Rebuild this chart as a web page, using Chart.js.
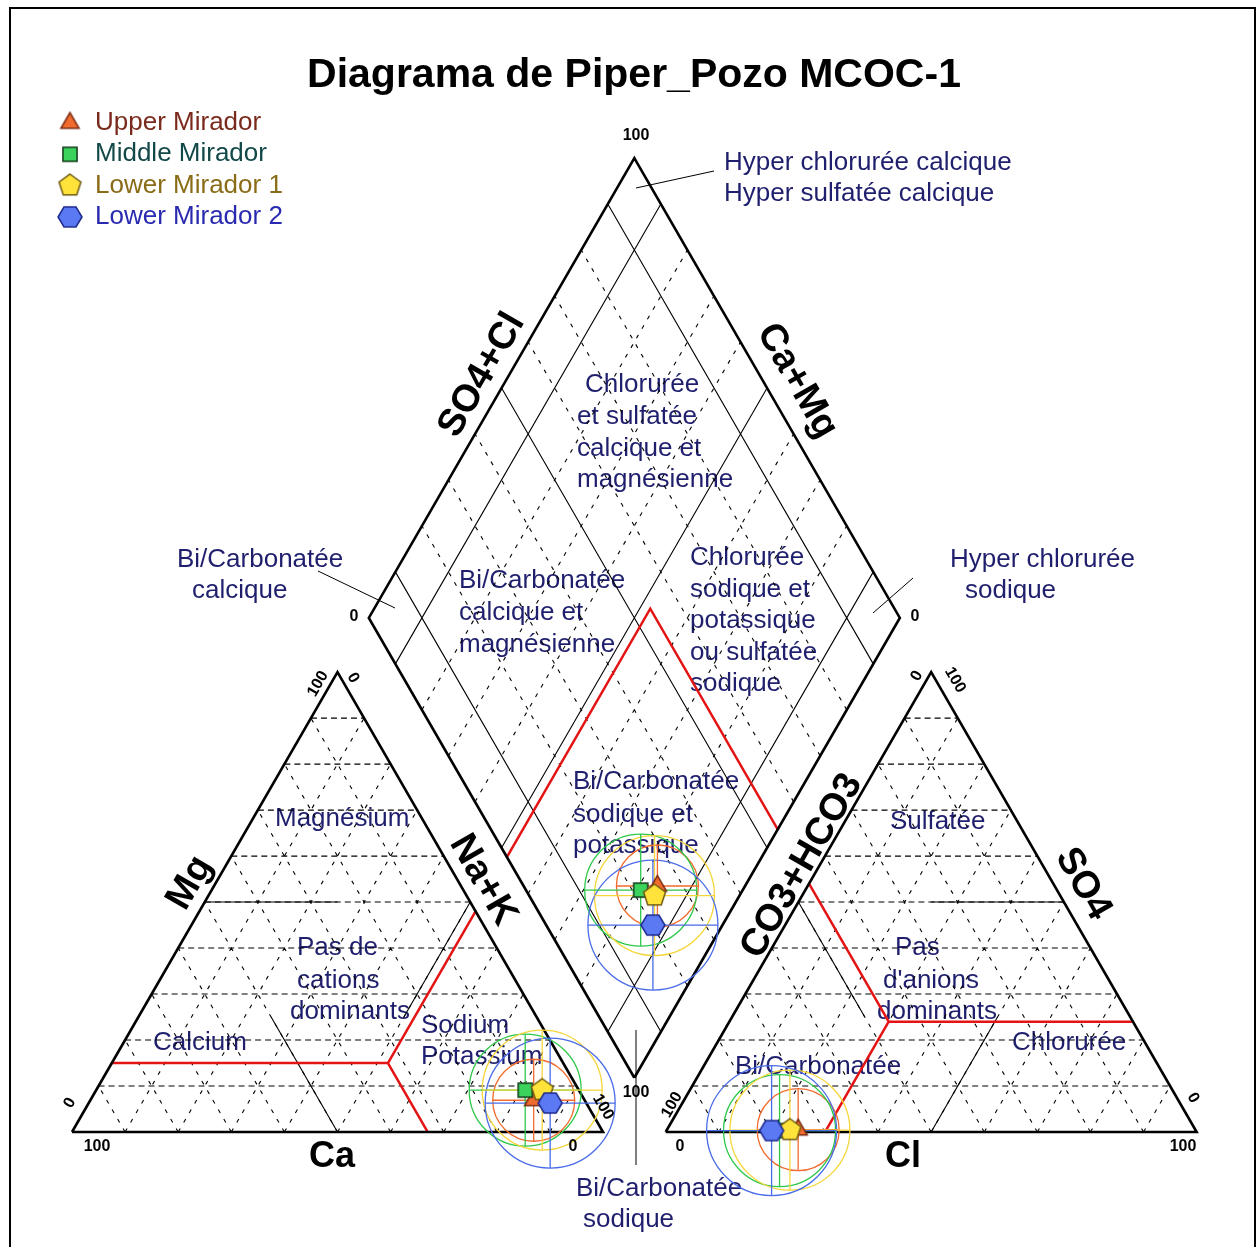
<!DOCTYPE html>
<html>
<head>
<meta charset="utf-8">
<script src="https://cdn.jsdelivr.net/npm/chart.js@4.4.0/dist/chart.umd.min.js"></script>
<style>
  html, body { margin: 0; padding: 0; background: #fff; }
  canvas { display: block; }
</style>
</head>
<body>
<canvas id="piper" width="1258" height="1247"></canvas>
<script>
// ---- data (% meq/l) ----
const seriesNames = ['Upper Mirador', 'Middle Mirador', 'Lower Mirador 1', 'Lower Mirador 2'];
const ca   = [9.6, 10.1, 6.9, 6.8];
const mg   = [6.9, 9.1, 9.1, 6.3];
const naK  = [83.5, 80.8, 84.0, 86.9];
const hco3 = [74.8, 78.4, 76.4, 79.9];
const so4  = [0.5, 0.3, 0.4, 0.3];
const cl   = [24.7, 21.3, 23.2, 19.8];
const edgeTicks = ['0', '100'];
const gridSteps = [10, 20, 30, 40, 50, 60, 70, 80, 90];

// ---- styles ----
const circleRadius = [41, 56, 60, 65];
const circleColors = ['#f26b2e', '#2dc84a', '#f5d63a', '#4a6be8'];
const markerFill   = ['#f26b2e', '#3bd35c', '#ffe23a', '#5b79f2'];
const markerEdge   = ['#7a2a10', '#133a18', '#6e5a12', '#1c2a8c'];
const legendColors = ['#7a2a1c', '#134848', '#8a6c16', '#2a2ab0'];
const LBL = '#1f1f6e';
const FONT = '"Liberation Sans", Arial, sans-serif';

// ---- piper geometry (triangle side = 100 units) ----
const K = 5.31, OX = 72, OY = 1132, CW = 1258, CH = 1247;
const TH = 86.6025, GAP = 11.8;
const XA = 100 + GAP;
const DB = { x: 100 + GAP / 2, y: GAP * TH / 100 };

const cat = (c, m, n) => ({ x: n + m / 2, y: m * TH / 100 });
const an  = (h, s, l) => ({ x: XA + l + s / 2, y: s * TH / 100 });
const dia = (a, c) => ({ x: DB.x + (a - c) / 2, y: DB.y + (a + c) * TH / 100 });

const flat = list => list.flatMap(s => [...s, { x: NaN, y: NaN }]);

const gridH = [], gridT = [];
gridSteps.forEach(v => {
  gridH.push([cat(100 - v, v, 0), cat(0, v, 100 - v)]);
  gridT.push([cat(v, 0, 100 - v), cat(v, 100 - v, 0)]);
  gridT.push([cat(100 - v, 0, v), cat(0, 100 - v, v)]);
  gridH.push([an(100 - v, v, 0), an(0, v, 100 - v)]);
  gridT.push([an(v, 0, 100 - v), an(v, 100 - v, 0)]);
  gridT.push([an(100 - v, 0, v), an(0, 100 - v, v)]);
});
const diaDash = [], thin = [];
gridSteps.forEach(v => {
  const pair = [[dia(v, 0), dia(v, 100)], [dia(0, v), dia(100, v)]];
  if ([10, 50, 90].includes(v)) thin.push(...pair); else diaDash.push(...pair);
});
thin.push(
  [cat(50, 50, 0), cat(25, 50, 25)], [cat(50, 0, 50), cat(50, 25, 25)], [cat(0, 50, 50), cat(25, 25, 50)],
  [an(0, 50, 50), an(25, 50, 25)], [an(50, 0, 50), an(25, 25, 50)], [an(50, 50, 0), an(50, 25, 25)]
);

const outlines = [
  [cat(100, 0, 0), cat(0, 0, 100), cat(0, 100, 0), cat(100, 0, 0)],
  [an(100, 0, 0), an(0, 0, 100), an(0, 100, 0), an(100, 0, 0)],
  [dia(0, 0), dia(100, 0), dia(100, 100), dia(0, 100), dia(0, 0)]
];

const redLines = [
  [cat(85, 15, 0), cat(33, 15, 52)], [cat(33, 15, 52), cat(33, 0, 67)], [cat(33, 15, 52), cat(0, 48, 52)],
  [an(46, 24, 30), an(0, 24, 76)], [an(46, 24, 30), an(70, 0, 30)], [an(46, 24, 30), an(46, 54, 0)],
  [dia(0, 48), dia(54, 48), dia(54, 0)]
];

function lineSet(segs, color, width, dash, order) {
  return {
    data: flat(segs), showLine: true, spanGaps: false, borderColor: color, borderWidth: width,
    borderDash: dash, pointRadius: 0, pointHoverRadius: 0, fill: false, order: order,
    borderJoinStyle: 'miter', borderCapStyle: 'butt'
  };
}

function polyMarker(sides, rx, ry, rot, fill, stroke) {
  const c = document.createElement('canvas');
  const s = Math.ceil(Math.max(rx, ry) * 2 + 4);
  c.width = c.height = s;
  const g = c.getContext('2d');
  g.beginPath();
  for (let k = 0; k < sides; k++) {
    const t = rot + k * 2 * Math.PI / sides;
    const px = s / 2 + rx * Math.cos(t), py = s / 2 + ry * Math.sin(t);
    if (k) g.lineTo(px, py); else g.moveTo(px, py);
  }
  g.closePath();
  g.fillStyle = fill; g.fill();
  g.lineWidth = 1.5; g.strokeStyle = stroke; g.stroke();
  return c;
}
const markers = [
  polyMarker(3, 10.5, 10.5, -Math.PI / 2, markerFill[0], markerEdge[0]),
  polyMarker(4, 10, 10, Math.PI / 4, markerFill[1], markerEdge[1]),
  polyMarker(5, 11.5, 11.5, -Math.PI / 2, markerFill[2], markerEdge[2]),
  polyMarker(6, 12, 11.5, 0, markerFill[3], markerEdge[3])
];

const datasets = [
  lineSet(gridH, '#000', 1.1, [6, 4], 100),
  lineSet(gridT, '#000', 1.1, [4, 7], 100),
  lineSet(diaDash, '#000', 1.1, [4, 7], 100),
  lineSet(thin, '#000', 1.1, [], 90),
  lineSet(redLines, '#e41414', 2.5, [], 80),
  lineSet(outlines, '#000', 2.6, [], 70)
];
seriesNames.forEach((name, i) => {
  const pts = [cat(ca[i], mg[i], naK[i]), an(hco3[i], so4[i], cl[i]), dia(so4[i] + cl[i], ca[i] + mg[i])];
  datasets.push({ label: name + ' circle', data: pts, pointStyle: 'circle', pointRadius: circleRadius[i],
    backgroundColor: 'rgba(0,0,0,0)', borderColor: circleColors[i], pointBorderWidth: 1.3, order: 50 - i });
  datasets.push({ label: name + ' cross', data: pts, pointStyle: 'cross', pointRadius: circleRadius[i],
    borderColor: circleColors[i], pointBorderWidth: 1.3, order: 40 - i });
  datasets.push({ label: name, data: pts, pointStyle: markers[i], pointRadius: 9, order: 20 - i });
});

// text placed from the picture (px)
const regionLabels = [
  ['Hyper chlorurée calcique', 724, 163], ['Hyper sulfatée calcique', 724, 194],
  ['Bi/Carbonatée', 177, 560], ['calcique', 192, 591],
  ['Hyper chlorurée', 950, 560], ['sodique', 965, 591],
  ['Chlorurée', 585, 385], ['et sulfatée', 577, 417], ['calcique et', 577, 449], ['magnésienne', 577, 480],
  ['Bi/Carbonatée', 459, 581], ['calcique et', 459, 613], ['magnésienne', 459, 645],
  ['Chlorurée', 690, 558], ['sodique et', 690, 590], ['potassique', 690, 621], ['ou sulfatée', 690, 653], ['sodique', 690, 684],
  ['Bi/Carbonatée', 573, 782], ['sodique et', 573, 815], ['potassique', 573, 846],
  ['Magnésium', 275, 819], ['Pas de', 297, 948], ['cations', 297, 981], ['dominants', 290, 1012],
  ['Calcium', 153, 1043], ['Sodium', 421, 1026], ['Potassium', 421, 1057],
  ['Sulfatée', 890, 822], ['Pas', 895, 948], ["d'anions", 883, 981], ['dominants', 877, 1012],
  ['Chlorurée', 1012, 1043], ['Bi/Carbonatée', 735, 1067],
  ['Bi/Carbonatée', 576, 1189], ['sodique', 583, 1220]
];
const axisLabels = [
  ['Ca', 332, 1157, 0, 36], ['Cl', 903, 1157, 0, 36],
  ['Mg', 190, 883, -60, 38], ['Na+K', 483, 880, 60, 38],
  ['SO4+Cl', 482, 375, -60, 38], ['Ca+Mg', 797, 381, 60, 38],
  ['CO3+HCO3', 802, 866, -60, 38], ['SO4', 1083, 884, 60, 38]
];
const numLabels = [
  [edgeTicks[1], 636, 136, 0], [edgeTicks[0], 354, 617, 0], [edgeTicks[0], 915, 617, 0], [edgeTicks[1], 636, 1093, 0],
  [edgeTicks[1], 97, 1147, 0], [edgeTicks[0], 573, 1147, 0], [edgeTicks[0], 70, 1103, -60], [edgeTicks[1], 318, 684, -60],
  [edgeTicks[0], 353, 678, 60], [edgeTicks[1], 603, 1107, 60],
  [edgeTicks[0], 680, 1147, 0], [edgeTicks[1], 1183, 1147, 0], [edgeTicks[1], 672, 1105, -60], [edgeTicks[0], 917, 676, -60],
  [edgeTicks[1], 955, 680, 60], [edgeTicks[0], 1193, 1098, 60]
];
const leaders = [[636, 188, 714, 171], [318, 571, 395, 608], [913, 578, 873, 613], [636, 1030, 636, 1165]];

function rotText(g, t, x, y, deg) {
  g.save(); g.translate(x, y); g.rotate(deg * Math.PI / 180); g.fillText(t, 0, 0); g.restore();
}

const annotations = {
  id: 'annotations',
  beforeDatasetsDraw(chart) {
    const g = chart.ctx;
    g.save();
    g.font = '26px ' + FONT; g.fillStyle = LBL; g.textAlign = 'left'; g.textBaseline = 'middle';
    regionLabels.forEach(([t, x, y]) => g.fillText(t, x, y));
    g.restore();
  },
  afterDatasetsDraw(chart) {
    const g = chart.ctx;
    g.save();
    g.strokeStyle = '#000'; g.lineWidth = 2;
    g.strokeRect(10, 8, 1245, 1260);
    g.lineWidth = 1;
    leaders.forEach(([x1, y1, x2, y2]) => { g.beginPath(); g.moveTo(x1, y1); g.lineTo(x2, y2); g.stroke(); });
    g.fillStyle = '#000'; g.textAlign = 'center'; g.textBaseline = 'middle';
    g.font = 'bold 41px ' + FONT;
    g.fillText('Diagrama de Piper_Pozo MCOC-1', 634, 76);
    axisLabels.forEach(([t, x, y, r, s]) => { g.font = 'bold ' + s + 'px ' + FONT; rotText(g, t, x, y, r); });
    g.font = 'bold 16px ' + FONT;
    numLabels.forEach(([t, x, y, r]) => rotText(g, t, x, y, r));
    g.font = '26px ' + FONT; g.textAlign = 'left';
    seriesNames.forEach((name, i) => {
      const y = 123 + i * 31.3;
      const m = markers[i];
      g.drawImage(m, 70 - m.width / 2, y - m.height / 2);
      g.fillStyle = legendColors[i];
      g.fillText(name, 95, y);
    });
    g.restore();
  }
};

new Chart(document.getElementById('piper'), {
  type: 'scatter',
  data: { datasets },
  options: {
    responsive: false, animation: false, devicePixelRatio: 1, events: [],
    layout: { padding: 0, autoPadding: false },
    plugins: { legend: { display: false }, tooltip: { enabled: false }, title: { display: false } },
    scales: {
      x: { type: 'linear', min: -OX / K, max: (CW - OX) / K, display: false },
      y: { type: 'linear', min: -(CH - OY) / K, max: OY / K, display: false }
    }
  },
  plugins: [annotations]
});
</script>
</body>
</html>
